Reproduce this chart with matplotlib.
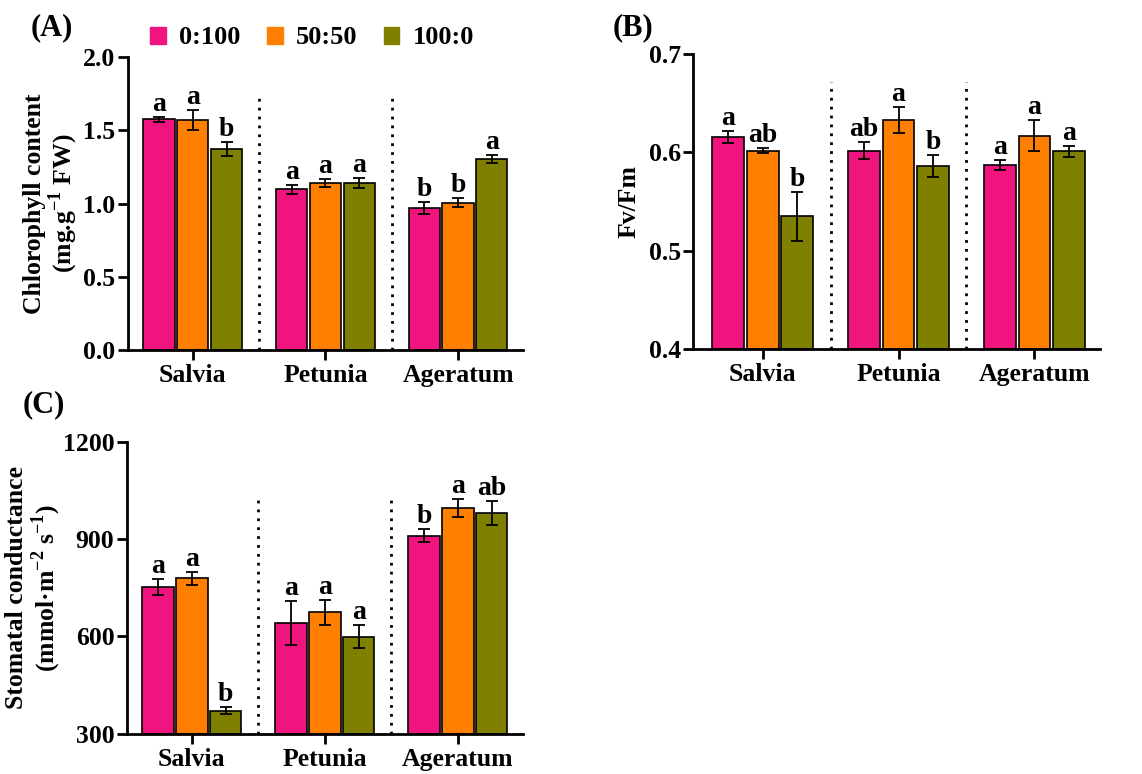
import matplotlib
matplotlib.use("Agg")
import matplotlib.pyplot as plt
import matplotlib.patches as mpatches
import numpy as np

plt.rcParams['font.family'] = ['Liberation Serif', 'DejaVu Serif']
plt.rcParams['font.weight'] = 'bold'
plt.rcParams['mathtext.fontset'] = 'custom'
plt.rcParams['mathtext.rm'] = 'Liberation Serif:bold'
plt.rcParams['mathtext.bf'] = 'Liberation Serif:bold'
plt.rcParams['axes.linewidth'] = 2

# 数据
species = ["Salvia", "Petunia", "Ageratum"]
ratios = ["0:100", "50:50", "100:0"]
colors = ["#F0157E", "#FF8000", "#808000"]

chl_mean = [[1.575, 1.097, 0.970],
            [1.570, 1.140, 1.005],
            [1.374, 1.142, 1.304]]
chl_err = [[0.02, 0.03, 0.04],
           [0.07, 0.025, 0.03],
           [0.05, 0.035, 0.03]]
chl_letters = [["a", "a", "b"],
               ["a", "a", "b"],
               ["b", "a", "a"]]

fvfm_mean = [[0.616, 0.602, 0.587],
             [0.602, 0.633, 0.617],
             [0.535, 0.586, 0.601]]
fvfm_err = [[0.006, 0.009, 0.005],
            [0.003, 0.013, 0.016],
            [0.025, 0.011, 0.006]]
fvfm_letters = [["a", "ab", "a"],
                ["ab", "a", "a"],
                ["b", "b", "a"]]

gs_mean = [[752, 641, 911],
           [779, 674, 996],
           [371, 599, 981]]
gs_err = [[24, 68, 21],
          [20, 40, 28],
          [10, 36, 37]]
gs_letters = [["a", "a", "b"],
              ["a", "a", "a"],
              ["b", "a", "ab"]]


def draw_panel(ax, means, errs, letters, ylim, yticks, yfmt, sep_top, xlim):
    x = np.arange(len(species))
    width = 0.235
    offs = [-0.255, 0, 0.255]
    for i in range(3):
        ax.bar(x + offs[i], np.array(means[i]) - ylim[0], width, bottom=ylim[0],
               color=colors[i], edgecolor="black", linewidth=1.2, zorder=2)
        ax.errorbar(x + offs[i], means[i], yerr=errs[i], fmt="none",
                    ecolor="black", elinewidth=1.3, capsize=4, capthick=1.3, zorder=3)
        for j in range(3):
            ax.annotate(letters[i][j], (x[j] + offs[i], means[i][j] + errs[i][j]),
                        xytext=(0, 0), textcoords="offset points",
                        ha="center", va="bottom", fontsize=20, fontweight="bold")
    ax.vlines([0.5, 1.5], ylim[0], sep_top, colors="black",
              linestyles=(0, (1, 2.2)), linewidth=2, zorder=1)
    ax.set_xlim(*xlim)
    ax.set_ylim(*ylim)
    ax.set_yticks(yticks)
    ax.set_yticklabels([yfmt.format(v) for v in yticks])
    ax.set_xticks(x)
    ax.set_xticklabels(species, fontsize=18.5, fontweight="bold")
    ax.spines["top"].set_visible(False)
    ax.spines["right"].set_visible(False)
    ax.tick_params(axis="y", labelsize=18.5, length=7, width=2, pad=2)
    ax.tick_params(axis="x", length=7, width=2, pad=3)


fig = plt.figure(figsize=(11.42, 7.74), dpi=100)

axA = fig.add_axes([0.112, 0.548, 0.346, 0.378])
draw_panel(axA, chl_mean, chl_err, chl_letters, (0, 2.0),
           [0, 0.5, 1.0, 1.5, 2.0], "{:.1f}", 1.72, (-0.49, 2.49))
axA.set_ylabel("Chlorophyll content\n(mg.g$^{-1}$ FW)", fontsize=18.5,
               fontweight="bold", linespacing=1.05, labelpad=2)

axB = fig.add_axes([0.607, 0.549, 0.356, 0.381])
draw_panel(axB, fvfm_mean, fvfm_err, fvfm_letters, (0.4, 0.7),
           [0.4, 0.5, 0.6, 0.7], "{:.1f}", 0.672, (-0.51, 2.48))
axB.set_ylabel("Fv/Fm", fontsize=18.5, fontweight="bold", labelpad=6)

axC = fig.add_axes([0.111, 0.052, 0.347, 0.377])
draw_panel(axC, gs_mean, gs_err, gs_letters, (300, 1200),
           [300, 600, 900, 1200], "{:.0f}", 1025, (-0.49, 2.49))
axC.set_ylabel("Stomatal conductance\n(mmol·m$^{-2}$ s$^{-1}$)", fontsize=18.5,
               fontweight="bold", linespacing=1.05, labelpad=0)

# 图例
handles = [mpatches.Patch(color=c, label=r) for c, r in zip(colors, ratios)]
fig.legend(handles=handles, loc="center", bbox_to_anchor=(312 / 1142, 1 - 38 / 774),
           ncol=3, frameon=False, handlelength=0.6, handleheight=0.6,
           handletextpad=0.5, columnspacing=1.0, prop={"weight": "bold", "size": 19})

fig.text(52 / 1142, 1 - 28 / 774, "(A)", fontsize=22, fontweight="bold", ha="center", va="center")
fig.text(633 / 1142, 1 - 28 / 774, "(B)", fontsize=22, fontweight="bold", ha="center", va="center")
fig.text(44 / 1142, 1 - 405 / 774, "(C)", fontsize=22, fontweight="bold", ha="center", va="center")

fig.savefig("out.png", dpi=100)
